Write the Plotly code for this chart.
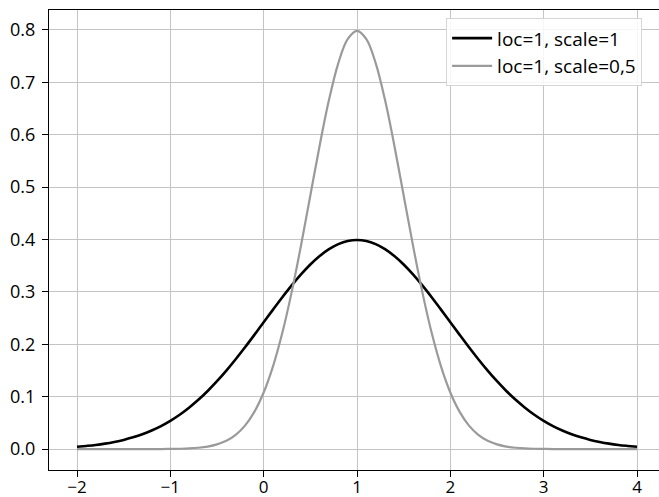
import plotly.graph_objects as go

x_vals = [-2.0, -1.9, -1.8, -1.7, -1.6, -1.5, -1.4, -1.3, -1.2, -1.1,
          -1.0, -0.9, -0.8, -0.7, -0.6, -0.5, -0.4, -0.3, -0.2, -0.1,
          0.0, 0.1, 0.2, 0.3, 0.4, 0.5, 0.6, 0.7, 0.8, 0.9,
          1.0, 1.1, 1.2, 1.3, 1.4, 1.5, 1.6, 1.7, 1.8, 1.9,
          2.0, 2.1, 2.2, 2.3, 2.4, 2.5, 2.6, 2.7, 2.8, 2.9,
          3.0, 3.1, 3.2, 3.3, 3.4, 3.5, 3.6, 3.7, 3.8, 3.9, 4.0]

y_scale1 = [0.0044, 0.0060, 0.0079, 0.0104, 0.0136, 0.0175, 0.0224, 0.0283, 0.0355, 0.0440,
            0.0540, 0.0656, 0.0790, 0.0940, 0.1109, 0.1295, 0.1497, 0.1714, 0.1942, 0.2179,
            0.2420, 0.2661, 0.2897, 0.3123, 0.3332, 0.3521, 0.3683, 0.3814, 0.3910, 0.3970,
            0.3989,
            0.3970, 0.3910, 0.3814, 0.3683, 0.3521, 0.3332, 0.3123, 0.2897, 0.2661, 0.2420,
            0.2179, 0.1942, 0.1714, 0.1497, 0.1295, 0.1109, 0.0940, 0.0790, 0.0656, 0.0540,
            0.0440, 0.0355, 0.0283, 0.0224, 0.0175, 0.0136, 0.0104, 0.0079, 0.0060, 0.0044]

y_scale05 = [0.0000, 0.0000, 0.0000, 0.0000, 0.0000, 0.0000, 0.0000, 0.0000, 0.0001, 0.0001,
             0.0003, 0.0006, 0.0012, 0.0025, 0.0048, 0.0089, 0.0158, 0.0272, 0.0448, 0.0710,
             0.1080, 0.1579, 0.2218, 0.2995, 0.3884, 0.4839, 0.5794, 0.6664, 0.7366, 0.7821,
             0.7979,
             0.7821, 0.7366, 0.6664, 0.5794, 0.4839, 0.3884, 0.2995, 0.2218, 0.1579, 0.1080,
             0.0710, 0.0448, 0.0272, 0.0158, 0.0089, 0.0048, 0.0025, 0.0012, 0.0006, 0.0003,
             0.0001, 0.0001, 0.0000, 0.0000, 0.0000, 0.0000, 0.0000, 0.0000, 0.0000, 0.0000]

names = ["loc=1, scale=1", "loc=1, scale=0,5"]
x_ticks = [-2, -1, 0, 1, 2, 3, 4]
y_ticks = [0.0, 0.1, 0.2, 0.3, 0.4, 0.5, 0.6, 0.7, 0.8]

FONT = "Open Sans"

fig = go.Figure()
fig.add_trace(go.Scatter(x=x_vals, y=y_scale1, mode="lines", name=names[0], legendgroup="a",
                         line=dict(color="#000000", width=2.6, shape="spline")))
fig.add_trace(go.Scatter(x=x_vals, y=y_scale05, mode="lines", name=names[1], legendgroup="b",
                         line=dict(color="#9a9a9a", width=2.2, shape="spline")))

fig.update_layout(
    width=659, height=497,
    margin=dict(l=49, r=0, t=10, b=27, autoexpand=False),
    paper_bgcolor="white", plot_bgcolor="white",
    font=dict(family=FONT, size=18, color="black"),
    showlegend=True,
    legend=dict(x=0.651, y=0.982, xanchor="left", yanchor="top",
                bgcolor="rgba(255,255,255,0.85)", bordercolor="#d5d5d5", borderwidth=1,
                font=dict(family=FONT, size=19, color="black"),
                tracegroupgap=0, itemwidth=40),
    xaxis=dict(range=[-2.3, 4.2357], tickvals=x_ticks, showgrid=True, gridcolor="#c4c4c4",
               gridwidth=1, zeroline=False, showline=True, linecolor="black", linewidth=1,
               mirror=True, ticks="outside", ticklen=6, tickcolor="black", tickwidth=1,
               automargin=False, ticklabelstandoff=-4,
               tickfont=dict(family=FONT, size=17, color="black")),
    yaxis=dict(range=[-0.0399, 0.8378], tickvals=y_ticks, tickformat=".1f", showgrid=True,
               gridcolor="#c4c4c4", gridwidth=1, zeroline=False, showline=True,
               linecolor="black", linewidth=1, ticks="outside", ticklen=6,
               tickcolor="black", tickwidth=1, automargin=False, ticklabelstandoff=3,
               tickfont=dict(family=FONT, size=18, color="black")),
)

fig.write_html("out.html")
